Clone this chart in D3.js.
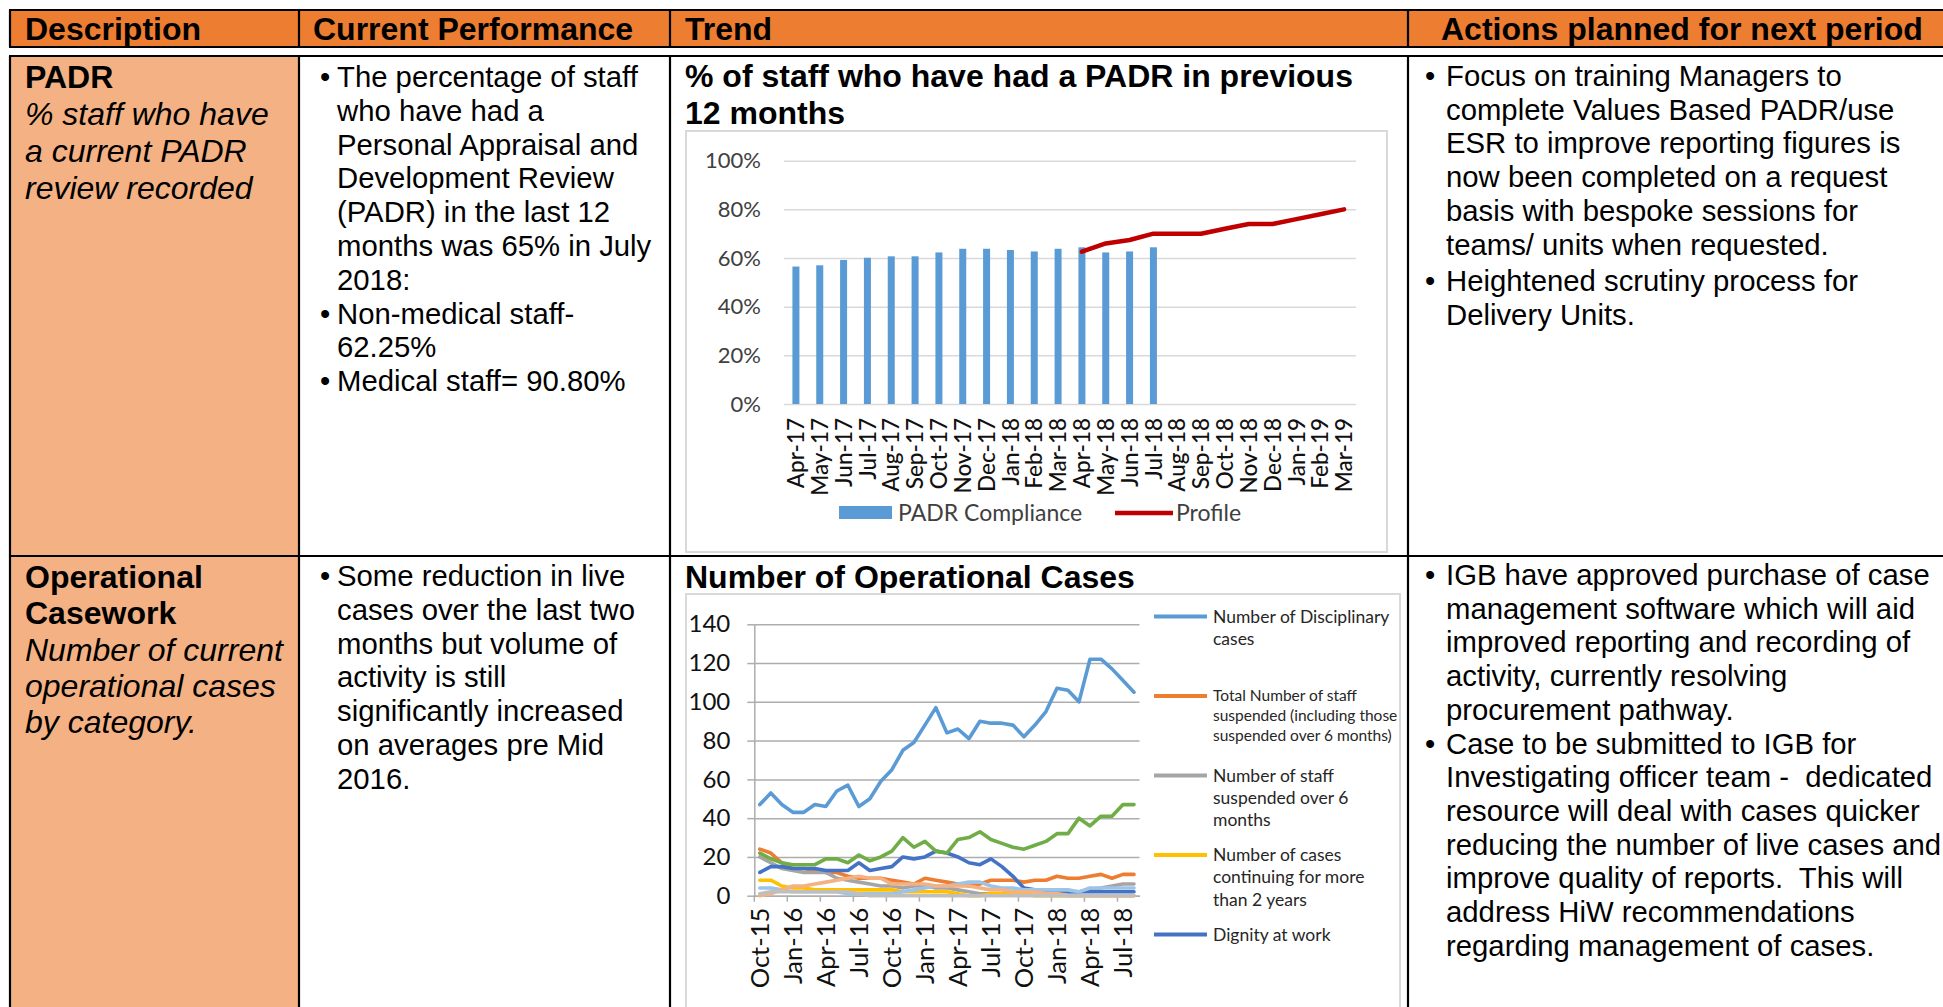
<!DOCTYPE html>
<html><head><meta charset="utf-8">
<script src="https://cdn.jsdelivr.net/npm/d3@7"></script>
<style>body{margin:0;background:#fff;overflow:hidden} svg{display:block} text{white-space:pre}</style>
</head><body><svg id="c" width="1943" height="1007"></svg>
<script>
// ---------------- DATA ----------------
const headerLabels = ["Description", "Current Performance", "Trend", "Actions planned for next period"];

const padrMonths = ["Apr-17","May-17","Jun-17","Jul-17","Aug-17","Sep-17","Oct-17","Nov-17","Dec-17","Jan-18","Feb-18","Mar-18","Apr-18","May-18","Jun-18","Jul-18","Aug-18","Sep-18","Oct-18","Nov-18","Dec-18","Jan-19","Feb-19","Mar-19"];
const padrCompliance = [56.5,57,59.2,60.1,60.7,60.7,62.3,63.8,63.8,63.3,62.7,63.8,64.4,62.3,62.7,64.4,null,null,null,null,null,null,null,null];
const padrProfile = [null,null,null,null,null,null,null,null,null,null,null,null,62.6,66,67.4,70,70,70,72,74,74,76,78,80];
const padrTicks = [0,20,40,60,80,100];
const padrLegend = ["PADR Compliance","Profile"];

const opsMonths = ["Oct-15","Nov-15","Dec-15","Jan-16","Feb-16","Mar-16","Apr-16","May-16","Jun-16","Jul-16","Aug-16","Sep-16","Oct-16","Nov-16","Dec-16","Jan-17","Feb-17","Mar-17","Apr-17","May-17","Jun-17","Jul-17","Aug-17","Sep-17","Oct-17","Nov-17","Dec-17","Jan-18","Feb-18","Mar-18","Apr-18","May-18","Jun-18","Jul-18","Aug-18"];
const opsTickLabels = ["Oct-15","Jan-16","Apr-16","Jul-16","Oct-16","Jan-17","Apr-17","Jul-17","Oct-17","Jan-18","Apr-18","Jul-18"];
const opsTicks = [0,20,40,60,80,100,120,140];
const disciplinary = [47,53,47,43,43,47,46,54,57,46,50,59,65,75,79,88,97,84,86,81,90,89,89,88,82,88,95,107,106,100,122,122,117,111,105];
const suspendedTotal = [24,22,17,14,14,13,12,12,10,9,9,9,8,7,6,9,8,7,6,5,6,8,8,8,7,8,8,10,9,9,10,11,9,11,11];
const suspendedOver6 = [20,17,14,13,12,12,12,9,8,7,6,5,5,4,5,5,4,4,3,2,1,1,1,2,2,2,2,2,2,2,3,4,5,6,6];
const casesOver2Years = [8,8,5,4,4,3,3,3,3,3,3,3,3,2,2,2,2,2,1,0,0,1,1,1,1,0,0,0,0,0,0,0,0,0,0];
const dignityAtWork = [12,15,15,14,14,14,13,13,13,17,13,14,15,20,19,20,23,22,20,17,16,19,15,10,4,3,3,3,2,2,2,2,2,2,2];
const seriesGreen = [22,19,17,16,16,16,19,19,17,21,18,20,23,30,25,28,23,22,29,30,33,29,27,25,24,26,28,32,32,40,36,41,41,47,47];
const seriesLightBlue = [4,4,3,2,2,2,2,2,1,1,1,1,1,2,3,4,5,5,6,7,7,5,4,4,3,3,3,3,3,2,4,4,4,4,4];
const seriesSalmon = [0,1,3,5,5,6,7,8,9,10,9,9,6,6,6,6,5,5,5,5,4,3,3,2,2,2,1,1,0,0,0,0,0,0,0];
const seriesLightGray = [1,2,2,2,2,2,2,2,2,1,0,0,0,0,0,0,0,0,0,0,0,0,0,0,0,0,0,0,0,0,0,0,0,0,0];
const opsLegendNames = [
  ["Number of Disciplinary","cases"],
  ["Total Number of staff","suspended (including those","suspended over 6 months)"],
  ["Number of staff","suspended over 6","months"],
  ["Number of cases","continuing for more","than 2 years"],
  ["Dignity at work"]
];

// ---------------- STYLE / LAYOUT ----------------
const BODY = "'Liberation Sans', Arial, sans-serif";
const CHART = "Lato, 'Open Sans', sans-serif";
const opsColors = ["#5B9BD5","#ED7D31","#A5A5A5","#FFC000","#4472C4","#70AD47","#9DC3E6","#F4B183","#BFBFBF"];
const opsSeries = [disciplinary, suspendedTotal, suspendedOver6, casesOver2Years, dignityAtWork, seriesGreen, seriesLightBlue, seriesSalmon, seriesLightGray];

const svg = d3.select("#c");
const colX = [10, 299, 670, 1408, 1960];
const headTop = 10, headBot = 47, bodyTop = 56, rowDiv = 556, bodyBot = 1020;

// table backgrounds
svg.append("rect").attr("x", colX[0]).attr("y", headTop).attr("width", colX[4]-colX[0]).attr("height", headBot-headTop).attr("fill", "#ED7D31");
svg.append("rect").attr("x", colX[0]).attr("y", bodyTop).attr("width", colX[1]-colX[0]).attr("height", bodyBot-bodyTop).attr("fill", "#F4B183");

// table borders
const bl = svg.append("g").attr("stroke", "#000").attr("stroke-width", 2.2);
[headTop, headBot, bodyTop, rowDiv].forEach(y => bl.append("line").attr("x1", colX[0]-1).attr("x2", colX[4]).attr("y1", y).attr("y2", y));
colX.slice(0,4).forEach(x => {
  bl.append("line").attr("x1", x).attr("x2", x).attr("y1", headTop).attr("y2", headBot);
  bl.append("line").attr("x1", x).attr("x2", x).attr("y1", bodyTop).attr("y2", bodyBot);
});

// header text
const headerX = [25, 313, 685, 1441];
headerLabels.forEach((t, i) => svg.append("text").attr("x", headerX[i]).attr("y", 40)
  .attr("font-family", BODY).attr("font-weight", "bold").attr("font-size", 32).attr("fill", "#000").text(t));

// generic text block
function block(x, y0, lh, lines, opt) {
  let y = y0;
  lines.forEach(l => {
    const item = typeof l === "string" ? {t: l} : l;
    if (item.gap) y += item.gap;
    svg.append("text").attr("x", x).attr("y", y)
      .attr("font-family", BODY).attr("font-size", item.size || opt.size)
      .attr("font-weight", item.bold ? "bold" : "normal")
      .attr("font-style", item.italic ? "italic" : "normal")
      .attr("fill", "#000").text(item.t);
    if (item.bullet) svg.append("text").attr("x", opt.bx).attr("y", y)
      .attr("font-family", BODY).attr("font-size", opt.size).attr("fill", "#000").text("•");
    y += lh;
  });
}

// Description column
block(25, 88, 37, [
  {t:"PADR", bold:true},
  {t:"% staff who have", italic:true},
  {t:"a current PADR", italic:true},
  {t:"review recorded", italic:true}
], {size: 32});
block(25, 588, 36.3, [
  {t:"Operational", bold:true},
  {t:"Casework", bold:true},
  {t:"Number of current", italic:true},
  {t:"operational cases", italic:true},
  {t:"by category.", italic:true}
], {size: 32});

// Current performance column
block(337, 87, 33.8, [
  {t:"The percentage of staff", bullet:true},
  "who have had a",
  "Personal Appraisal and",
  "Development Review",
  "(PADR) in the last 12",
  "months was 65% in July",
  "2018:",
  {t:"Non-medical staff-", bullet:true},
  "62.25%",
  {t:"Medical staff= 90.80%", bullet:true}
], {size: 29.3, bx: 320});
block(337, 586, 33.8, [
  {t:"Some reduction in live", bullet:true},
  "cases over the last two",
  "months but volume of",
  "activity is still",
  "significantly increased",
  "on averages pre Mid",
  "2016."
], {size: 29.3, bx: 320});

// Actions column
block(1446, 86, 33.7, [
  {t:"Focus on training Managers to", bullet:true},
  "complete Values Based PADR/use",
  "ESR to improve reporting figures is",
  "now been completed on a request",
  "basis with bespoke sessions for",
  "teams/ units when requested.",
  {t:"Heightened scrutiny process for", bullet:true, gap:3},
  "Delivery Units."
], {size: 29.3, bx: 1425});
block(1446, 585, 33.7, [
  {t:"IGB have approved purchase of case", bullet:true},
  "management software which will aid",
  "improved reporting and recording of",
  "activity, currently resolving",
  "procurement pathway.",
  {t:"Case to be submitted to IGB for", bullet:true},
  "Investigating officer team -  dedicated",
  "resource will deal with cases quicker",
  "reducing the number of live cases and",
  "improve quality of reports.  This will",
  "address HiW recommendations",
  "regarding management of cases."
], {size: 29.3, bx: 1425});

// ---------------- CHART 1: PADR ----------------
svg.append("text").attr("x", 685).attr("y", 87).attr("font-family", BODY).attr("font-weight","bold").attr("font-size", 32).text("% of staff who have had a PADR in previous");
svg.append("text").attr("x", 685).attr("y", 124).attr("font-family", BODY).attr("font-weight","bold").attr("font-size", 32).text("12 months");
svg.append("rect").attr("x", 686).attr("y", 131).attr("width", 701).attr("height", 421).attr("fill", "none").attr("stroke", "#D9D9D9").attr("stroke-width", 2);

const p1 = {l: 784, r: 1356, t: 160.7, b: 404};
const x1 = d3.scaleBand().domain(padrMonths).range([p1.l, p1.r]).paddingInner(0.706).paddingOuter(0.353);
const y1 = d3.scaleLinear().domain([0, 100]).range([p1.b, p1.t]);

const g1y = svg.append("g").attr("transform", `translate(${p1.l},0)`)
  .call(d3.axisLeft(y1).tickValues(padrTicks).tickFormat(d => d + "%").tickSize(-(p1.r - p1.l)).tickPadding(23));
g1y.select(".domain").remove();
g1y.selectAll(".tick line").attr("stroke", "#D9D9D9").attr("stroke-width", 1.5);
g1y.selectAll(".tick text").attr("font-family", CHART).attr("font-size", 22).attr("fill", "#404040");

svg.append("g").selectAll("rect").data(padrCompliance.map((v, i) => ({m: padrMonths[i], v}))).join("rect")
  .filter(d => d.v != null)
  .attr("x", d => x1(d.m))
  .attr("y", d => y1(d.v)).attr("width", x1.bandwidth()).attr("height", d => y1(0) - y1(d.v)).attr("fill", "#5B9BD5");

const g1x = svg.append("g").attr("transform", `translate(0,${p1.b})`)
  .call(d3.axisBottom(x1).tickSize(0));
g1x.select(".domain").remove();
g1x.selectAll(".tick text").attr("transform", "rotate(-90)").attr("x", -14).attr("y", 0).attr("dy", "0.36em")
  .attr("text-anchor", "end").attr("font-family", CHART).attr("font-size", 22.5).attr("font-weight", 500).attr("fill", "#111");

const line1 = d3.line().defined(d => d != null)
  .x((d, i) => x1(padrMonths[i]) + x1.bandwidth() / 2).y(d => y1(d));
svg.append("path").datum(padrProfile).attr("d", line1).attr("fill", "none").attr("stroke", "#C00000").attr("stroke-width", 4.5).attr("stroke-linejoin", "round").attr("stroke-linecap", "round");

// legend 1
svg.append("rect").attr("x", 839).attr("y", 506).attr("width", 53).attr("height", 13).attr("fill", "#5B9BD5");
svg.append("text").attr("x", 898).attr("y", 521).attr("font-family", CHART).attr("font-size", 23).attr("fill", "#404040").text(padrLegend[0]);
svg.append("line").attr("x1", 1115).attr("x2", 1173).attr("y1", 513).attr("y2", 513).attr("stroke", "#C00000").attr("stroke-width", 4.5);
svg.append("text").attr("x", 1176).attr("y", 521).attr("font-family", CHART).attr("font-size", 23).attr("fill", "#404040").text(padrLegend[1]);

// ---------------- CHART 2: Operational cases ----------------
svg.append("text").attr("x", 685).attr("y", 588).attr("font-family", BODY).attr("font-weight","bold").attr("font-size", 32).text("Number of Operational Cases");
svg.append("rect").attr("x", 686).attr("y", 594).attr("width", 714).attr("height", 440).attr("fill", "none").attr("stroke", "#D9D9D9").attr("stroke-width", 2);

const p2 = {l: 754.3, r: 1139.5, t: 624.3, b: 895.7};
const x2 = d3.scaleBand().domain(opsMonths).range([p2.l, p2.r]);
const y2 = d3.scaleLinear().domain([0, 140]).range([p2.b, p2.t]);

const g2grid = svg.append("g").attr("transform", `translate(${p2.l},0)`)
  .call(d3.axisLeft(y2).tickValues(opsTicks).tickSize(-(p2.r - p2.l)).tickFormat(""));
g2grid.select(".domain").remove();
g2grid.selectAll(".tick line").attr("stroke", "#ADADAD").attr("stroke-width", 1.5);

const g2y = svg.append("g").attr("transform", `translate(${p2.l},0)`)
  .call(d3.axisLeft(y2).tickValues(opsTicks).tickSize(7).tickSizeOuter(0).tickPadding(17));
g2y.select(".domain").attr("stroke", "#ADADAD").attr("stroke-width", 1.5);
g2y.selectAll(".tick line").attr("stroke", "#ADADAD").attr("stroke-width", 1.5);
g2y.selectAll(".tick text").attr("font-family", CHART).attr("font-size", 24).attr("fill", "#111");

const g2x = svg.append("g").attr("transform", `translate(0,${p2.b})`)
  .call(d3.axisBottom(x2).tickValues(opsTickLabels).tickSize(6).tickSizeOuter(0));
g2x.select(".domain").attr("stroke", "#ADADAD").attr("stroke-width", 1.5);
g2x.selectAll(".tick line").attr("x1", -x2.bandwidth() / 2).attr("x2", -x2.bandwidth() / 2).attr("stroke", "#ADADAD").attr("stroke-width", 1.5);
g2x.selectAll(".tick text").attr("transform", "rotate(-90)").attr("x", -12).attr("y", 0).attr("dy", "0.36em")
  .attr("text-anchor", "end").attr("font-family", CHART).attr("font-size", 25.5).attr("fill", "#111");

const line2 = d3.line().x((d, i) => x2(opsMonths[i]) + x2.bandwidth() / 2).y(d => y2(d));
svg.append("g").selectAll("path").data(opsSeries).join("path")
  .attr("d", line2).attr("fill", "none").attr("stroke", (d, i) => opsColors[i])
  .attr("stroke-width", 3.6).attr("stroke-linejoin", "round").attr("stroke-linecap", "round");

// legend 2
const legY0 = 616.5, legStep = 79.5;
opsLegendNames.forEach((lines, i) => {
  const cy = legY0 + i * legStep;
  const small = i === 1;
  const fs = small ? 15.5 : 17.5, lh = small ? 20 : 22.3;
  svg.append("line").attr("x1", 1154).attr("x2", 1207).attr("y1", cy).attr("y2", cy)
    .attr("stroke", opsColors[i]).attr("stroke-width", 4);
  lines.forEach((t, j) => svg.append("text").attr("x", 1213).attr("y", cy + j * lh).attr("dy", "0.35em")
    .attr("font-family", CHART).attr("font-size", fs).attr("fill", "#262626").text(t));
});
</script>
</body></html>
